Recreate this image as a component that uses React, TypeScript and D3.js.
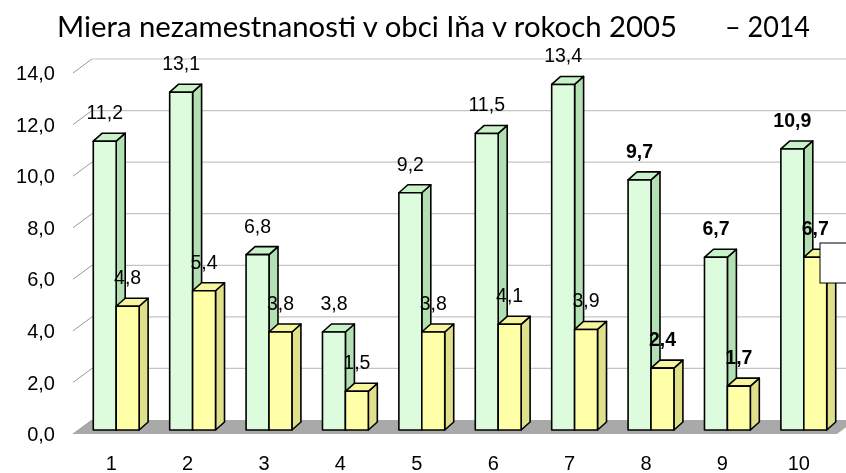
import React, { useRef, useEffect } from "react";
import * as d3 from "d3";

// Data
const categories = ["1", "2", "3", "4", "5", "6", "7", "8", "9", "10"];
const greenValues = [11.2, 13.1, 6.8, 3.8, 9.2, 11.5, 13.4, 9.7, 6.7, 10.9];
const yellowValues = [4.8, 5.4, 3.8, 1.5, 3.8, 4.1, 3.9, 2.4, 1.7, 6.7];
const yTicks = [0, 2, 4, 6, 8, 10, 12, 14];
const boldFrom = 7; // labels of groups 8-10 are bold

const fmt = (v: number) => v.toFixed(1).replace(".", ",");
const sans = "Liberation Sans, Arial, Helvetica, sans-serif";

const App = () => {
  const svgRef = useRef<SVGSVGElement>(null);

  useEffect(() => {
    const width = 846;
    const height = 473;
    const svg = d3.select(svgRef.current).attr("width", width).attr("height", height);
    svg.selectAll("*").remove();

    const x0 = 73;
    const x1 = 837;
    const wallDx = 19;
    const wallDy = -14;
    const barDx = 9;
    const barDy = -8;

    const yFront = d3.scaleLinear().domain([0, 14]).range([434, 73]);
    const yBar = d3.scaleLinear().domain([0, 14]).range([430, 69]);

    const band = d3
      .scaleBand()
      .domain(categories)
      .range([x0, x1])
      .paddingInner(0.4)
      .paddingOuter(0.2);
    const inner = d3.scaleBand().domain(["g", "y"]).range([0, band.bandwidth()]);

    // floor
    svg
      .append("polygon")
      .attr(
        "points",
        [
          [x0, yFront(0)],
          [x1, yFront(0)],
          [x1 + wallDx, yFront(0) + wallDy],
          [x0 + wallDx, yFront(0) + wallDy],
        ].join(" ")
      )
      .attr("fill", "#a9a9a9");

    // back wall gridlines and side diagonals
    const grid = svg.append("g");
    yTicks.forEach((t) => {
      const yf = yFront(t);
      if (t > 0) {
        grid
          .append("line")
          .attr("x1", x0 + wallDx)
          .attr("x2", width)
          .attr("y1", yf + wallDy)
          .attr("y2", yf + wallDy)
          .attr("stroke", "#c4c4c4")
          .attr("stroke-width", 1.2);
      }
      grid
        .append("line")
        .attr("x1", x0)
        .attr("y1", yf)
        .attr("x2", x0 + wallDx)
        .attr("y2", yf + wallDy)
        .attr("stroke", "#9a9a9a")
        .attr("stroke-width", 1);
      grid
        .append("text")
        .attr("x", 55)
        .attr("y", yf)
        .attr("dy", "0.36em")
        .attr("text-anchor", "end")
        .attr("font-family", sans)
        .attr("font-size", 20)
        .attr("fill", "#000")
        .text(fmt(t));
    });

    const drawBar = (x: number, w: number, v: number, c: { front: string; side: string; top: string }) => {
      const yb = yBar(0);
      const yt = yBar(v);
      const g = svg.append("g").attr("stroke", "#000").attr("stroke-width", 1.6).attr("stroke-linejoin", "round");
      g.append("polygon")
        .attr("points", [[x + w, yt], [x + w + barDx, yt + barDy], [x + w + barDx, yb + barDy], [x + w, yb]].join(" "))
        .attr("fill", c.side);
      g.append("polygon")
        .attr("points", [[x, yt], [x + barDx, yt + barDy], [x + w + barDx, yt + barDy], [x + w, yt]].join(" "))
        .attr("fill", c.top);
      g.append("rect")
        .attr("x", x)
        .attr("y", yt)
        .attr("width", w)
        .attr("height", yb - yt)
        .attr("fill", c.front);
    };

    const green = { front: "#ddfcdd", side: "#b3e0b3", top: "#c9f2c9" };
    const yellow = { front: "#ffffa8", side: "#dfdf8c", top: "#f6f6a0" };
    const shift = 5;

    categories.forEach((cat, i) => {
      const bx = (band(cat) as number) + shift;
      drawBar(bx + (inner("g") as number), inner.bandwidth(), greenValues[i], green);
      drawBar(bx + (inner("y") as number), inner.bandwidth(), yellowValues[i], yellow);
    });

    // value labels
    const labels = svg
      .append("g")
      .attr("font-family", sans)
      .attr("font-size", 19.5)
      .attr("text-anchor", "middle")
      .attr("fill", "#000");
    categories.forEach((cat, i) => {
      const bx = (band(cat) as number) + shift;
      const w = inner.bandwidth();
      [
        [greenValues[i], inner("g") as number],
        [yellowValues[i], inner("y") as number],
      ].forEach(([v, off]) => {
        labels
          .append("text")
          .attr("x", bx + off + w / 2)
          .attr("y", yBar(v) - 29)
          .attr("dy", "0.36em")
          .attr("font-weight", i >= boldFrom ? "bold" : "normal")
          .text(fmt(v));
      });
    });

    // category labels
    svg
      .append("g")
      .selectAll("text")
      .data(categories)
      .join("text")
      .attr("x", (d) => (band(d) as number) + band.bandwidth() / 2)
      .attr("y", 463)
      .attr("dy", "0.36em")
      .attr("text-anchor", "middle")
      .attr("font-family", sans)
      .attr("font-size", 20)
      .text((d) => d);

    // legend box (cut off at the right edge)
    svg
      .append("rect")
      .attr("x", 820)
      .attr("y", 243)
      .attr("width", 40)
      .attr("height", 40)
      .attr("fill", "#fff")
      .attr("stroke", "#000")
      .attr("stroke-width", 1);

    // title
    const title = svg
      .append("g")
      .attr("font-family", "Lato, 'Noto Sans', sans-serif")
      .attr("font-size", 28)
      .attr("fill", "#000");
    title
      .append("text")
      .attr("x", 57)
      .attr("y", 37)
      .attr("textLength", 620)
      .attr("lengthAdjust", "spacingAndGlyphs")
      .text("Miera nezamestnanosti v obci Iňa v rokoch 2005");
    title
      .append("text")
      .attr("x", 725)
      .attr("y", 37)
      .attr("textLength", 85)
      .attr("lengthAdjust", "spacingAndGlyphs")
      .text("– 2014");
  }, []);

  return (
    <div style={{ position: "fixed", left: 0, top: 0 }}>
      <svg ref={svgRef} style={{ display: "block" }}></svg>
    </div>
  );
};

export default App;
